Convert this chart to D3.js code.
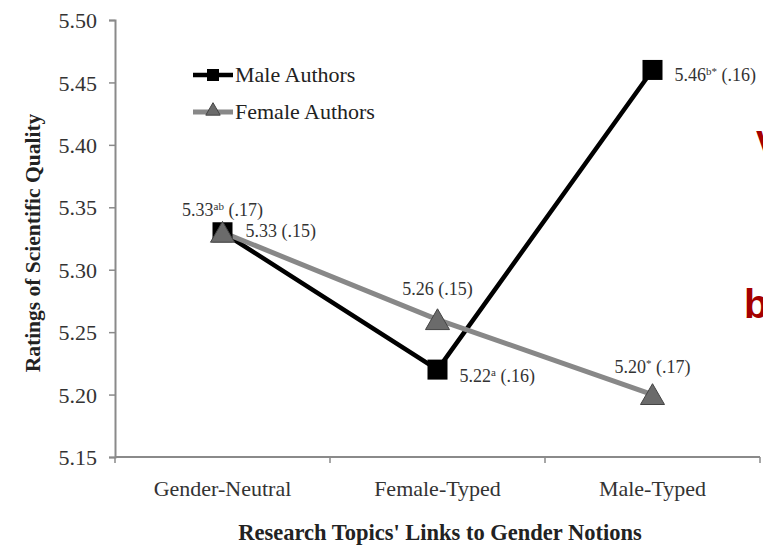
<!DOCTYPE html>
<html>
<head>
<meta charset="utf-8">
<script src="https://cdn.jsdelivr.net/npm/d3@7/dist/d3.min.js"></script>
<style>
  html, body { margin: 0; padding: 0; background: #fff; }
  svg { display: block; }
  text { font-family: "Liberation Serif", "Times New Roman", serif; }
</style>
</head>
<body>
<svg id="chart" width="763" height="545"></svg>
<script>
// Mean ratings (SD) by topic type and author gender
const categories = ["Gender-Neutral", "Female-Typed", "Male-Typed"];
const maleValues = [5.33, 5.22, 5.46];
const femaleValues = [5.33, 5.26, 5.20];
const maleSD = [".17", ".16", ".16"];
const femaleSD = [".15", ".15", ".17"];
const maleSup = ["ab", "a", "b*"];
const femaleSup = ["", "", "*"];
const yTicks = [5.15, 5.20, 5.25, 5.30, 5.35, 5.40, 5.45, 5.50];
const seriesNames = ["Male Authors", "Female Authors"];

const svg = d3.select("#chart");
const plotLeft = 115, plotRight = 760, plotTop = 20, plotBottom = 457;

const x = d3.scaleBand().domain(categories).range([plotLeft, plotRight]);
const y = d3.scaleLinear().domain([5.15, 5.50]).range([plotBottom, plotTop]);
const cx = c => x(c) + x.bandwidth() / 2;

const axisColor = "#8a8a8a";

// Y axis
const yAxis = svg.append("g")
  .attr("transform", `translate(${plotLeft},0)`)
  .call(d3.axisLeft(y).tickValues(yTicks).tickFormat(d3.format(".2f")).tickSize(6).tickPadding(12));
yAxis.select(".domain").attr("stroke", axisColor).attr("stroke-width", 2);
yAxis.selectAll(".tick line").attr("stroke", axisColor).attr("stroke-width", 1.5);
yAxis.selectAll(".tick text").attr("font-size", 22).attr("fill", "#333").attr("dy", "0.35em");

// X axis: ticks sit on band boundaries, labels at band centres
const xAxisG = svg.append("g").attr("transform", `translate(0,${plotBottom})`);
xAxisG.append("line").attr("x1", plotLeft).attr("x2", plotRight).attr("stroke", axisColor).attr("stroke-width", 2);
const bounds = categories.map(c => x(c)).concat([x(categories[categories.length - 1]) + x.bandwidth()]);
xAxisG.selectAll("line.tk").data(bounds).enter().append("line").attr("class", "tk")
  .attr("x1", d => d).attr("x2", d => d).attr("y1", 0).attr("y2", 6)
  .attr("stroke", axisColor).attr("stroke-width", 1.5);
xAxisG.selectAll("text").data(categories).enter().append("text")
  .attr("x", d => cx(d)).attr("y", 39).attr("text-anchor", "middle")
  .attr("font-size", 22).attr("fill", "#333").text(d => d);

// Axis titles
svg.append("text").attr("x", 440).attr("y", 540).attr("text-anchor", "middle")
  .attr("font-size", 22.5).attr("font-weight", "bold").attr("fill", "#222")
  .text("Research Topics' Links to Gender Notions");
svg.append("text").attr("transform", "translate(40,243) rotate(-90)").attr("text-anchor", "middle")
  .attr("font-size", 21.5).attr("font-weight", "bold").attr("fill", "#222")
  .text("Ratings of Scientific Quality");

const line = d3.line().x((d, i) => cx(categories[i])).y(d => y(d));
const femaleColor = "#888888";
const triFill = "#6b6b6b";
const triangle = d3.symbol().type(d3.symbolTriangle);

// Male series
svg.append("path").datum(maleValues).attr("d", line)
  .attr("fill", "none").attr("stroke", "#000").attr("stroke-width", 4.5);
// Female series
svg.append("path").datum(femaleValues).attr("d", line)
  .attr("fill", "none").attr("stroke", femaleColor).attr("stroke-width", 5);

svg.selectAll("rect.m").data(maleValues).enter().append("rect").attr("class", "m")
  .attr("x", (d, i) => cx(categories[i]) - 10).attr("y", d => y(d) - 10)
  .attr("width", 20).attr("height", 20).attr("fill", "#000");

// Triangles centred on their bounding box (d3 centres them on the centroid)
svg.selectAll("path.f").data(femaleValues).enter().append("path").attr("class", "f")
  .attr("d", triangle.size(250)())
  .attr("transform", (d, i) => `translate(${cx(categories[i])},${y(d) + 3})`)
  .attr("fill", triFill).attr("stroke", "#444").attr("stroke-width", 1);

// Value labels
function valueLabel(px, py, val, sup, sd, anchor) {
  const t = svg.append("text").attr("x", px).attr("y", py).attr("font-size", 18)
    .attr("fill", "#333").attr("text-anchor", anchor);
  t.append("tspan").text(val.toFixed(2));
  if (sup) t.append("tspan").attr("font-size", 11).attr("dy", -6).text(sup);
  t.append("tspan").attr("dy", sup ? 6 : 0).text(" (" + sd + ")");
}
const maleOffsets = [[0, -16, "middle"], [22, 12, "start"], [22, 11, "start"]];
const femaleOffsets = [[23, 5, "start"], [0, -25, "middle"], [0, -22, "middle"]];
maleValues.forEach((v, i) => {
  const o = maleOffsets[i];
  valueLabel(cx(categories[i]) + o[0], y(v) + o[1], v, maleSup[i], maleSD[i], o[2]);
});
femaleValues.forEach((v, i) => {
  const o = femaleOffsets[i];
  valueLabel(cx(categories[i]) + o[0], y(v) + o[1], v, femaleSup[i], femaleSD[i], o[2]);
});

// Legend
const legend = svg.append("g");
[0, 1].forEach(i => {
  const ly = 75 + i * 37;
  legend.append("line").attr("x1", 193).attr("x2", 233).attr("y1", ly).attr("y2", ly)
    .attr("stroke", i === 0 ? "#000" : femaleColor).attr("stroke-width", i === 0 ? 4.5 : 5);
  if (i === 0) {
    legend.append("rect").attr("x", 207).attr("y", ly - 6).attr("width", 12).attr("height", 12).attr("fill", "#000");
  } else {
    legend.append("path").attr("d", d3.symbol().type(d3.symbolTriangle).size(90)())
      .attr("transform", `translate(213,${ly - 1})`).attr("fill", triFill).attr("stroke", "#444");
  }
  legend.append("text").attr("x", 235).attr("y", ly + 7).attr("font-size", 22)
    .attr("fill", "#222").text(seriesNames[i]);
});

// Letters from the neighbouring slide, clipped at the right edge
svg.append("text").attr("x", 756).attr("y", 157).attr("font-family", "Liberation Sans")
  .attr("font-weight", "bold").attr("font-size", 36).attr("fill", "#a50000")
  .style("font-family", "Liberation Sans").text("V");
svg.append("text").attr("x", 744).attr("y", 318).attr("font-family", "Liberation Sans")
  .attr("font-weight", "bold").attr("font-size", 40).attr("fill", "#a50000")
  .style("font-family", "Liberation Sans").text("b");
</script>
</body>
</html>
